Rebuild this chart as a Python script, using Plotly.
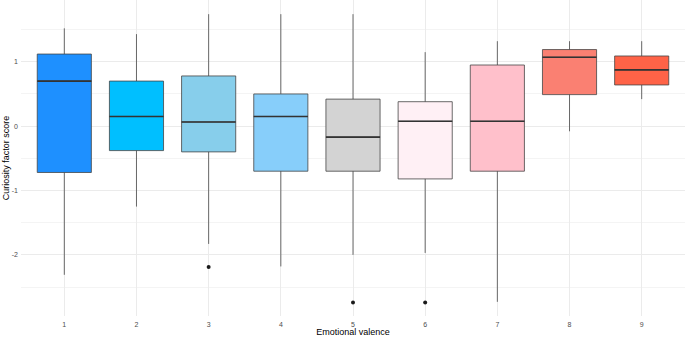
import plotly.graph_objects as go

valence = [1, 2, 3, 4, 5, 6, 7, 8, 9]
lower_whisker = [-2.31, -1.25, -1.83, -2.18, -2.00, -1.97, -2.73, -0.08, 0.42]
q1 = [-0.72, -0.38, -0.40, -0.70, -0.70, -0.82, -0.70, 0.49, 0.64]
median = [0.70, 0.15, 0.065, 0.15, -0.17, 0.075, 0.075, 1.07, 0.875]
q3 = [1.12, 0.70, 0.78, 0.50, 0.42, 0.38, 0.95, 1.19, 1.09]
upper_whisker = [1.52, 1.43, 1.74, 1.74, 1.74, 1.15, 1.32, 1.32, 1.32]
colors = ["#1E90FF", "#00BFFF", "#87CEEB", "#87CEFA", "#D3D3D3",
          "#FFF0F5", "#FFC0CB", "#FA8072", "#FF6347"]
outlier_x = [3, 5, 6]
outlier_y = [-2.19, -2.74, -2.74]
box_width = 0.75

fig = go.Figure()
for i, v in enumerate(valence):
    fig.add_trace(go.Box(
        x=[v], q1=[q1[i]], median=[median[i]], q3=[q3[i]],
        lowerfence=[lower_whisker[i]], upperfence=[upper_whisker[i]],
        width=box_width, whiskerwidth=0,
        fillcolor=colors[i],
        line=dict(color="rgba(70,70,70,0.8)", width=1),
        showlegend=False, hoverinfo="skip",
    ))

# thicker median lines (ggplot style)
mx, my = [], []
for i, v in enumerate(valence):
    mx += [v - box_width / 2, v + box_width / 2, None]
    my += [median[i], median[i], None]
fig.add_trace(go.Scatter(x=mx, y=my, mode="lines",
                         line=dict(color="#333333", width=1.6),
                         showlegend=False, hoverinfo="skip"))

fig.add_trace(go.Scatter(x=outlier_x, y=outlier_y, mode="markers",
                         marker=dict(color="#1a1a1a", size=4),
                         showlegend=False, hoverinfo="skip"))

fig.update_layout(
    width=685, height=337,
    margin=dict(l=21, r=0, t=0, b=21),
    paper_bgcolor="white", plot_bgcolor="white",
    font=dict(family="Liberation Sans, Arial, sans-serif"),
    xaxis=dict(
        range=[0.4, 9.6], tickmode="array", tickvals=valence,
        ticktext=[str(v) for v in valence],
        showgrid=True, gridcolor="#EBEBEB", gridwidth=1,
        zeroline=False, showline=False, ticks="",
        ticklabelstandoff=3,
        tickfont=dict(size=7, color="#4D4D4D"),
        title=dict(text="Emotional valence", font=dict(size=9, color="black"), standoff=2),
        automargin=False,
    ),
    yaxis=dict(
        range=[-2.95, 1.96], tickmode="array", tickvals=[-2, -1, 0, 1],
        ticktext=["-2", "-1", "0", "1"],
        showgrid=True, gridcolor="#EBEBEB", gridwidth=1,
        minor=dict(tickvals=[-2.5, -1.5, -0.5, 0.5, 1.5], showgrid=True,
                   gridcolor="#F4F4F4", gridwidth=1),
        zeroline=False, showline=False, ticks="",
        ticklabelstandoff=2,
        tickfont=dict(size=7, color="#4D4D4D"),
        title=dict(text="Curiosity factor score", font=dict(size=9, color="black"), standoff=0),
        automargin=False,
    ),
)

fig.write_html("out.html", config={"displayModeBar": False},
               post_script="document.body.style.margin='0';")
